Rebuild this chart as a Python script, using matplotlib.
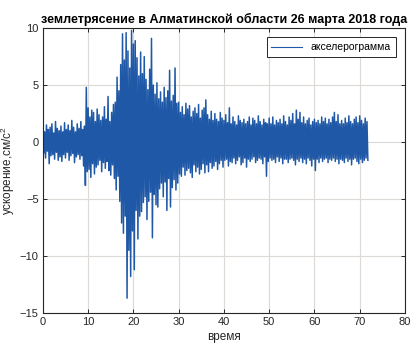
"""Accelerogram of the 26 March 2018 earthquake in Almaty region."""
import numpy as np
import matplotlib
matplotlib.use("Agg")
import matplotlib.pyplot as plt

plt.rcParams["font.family"] = ["Liberation Sans", "DejaVu Sans"]
plt.rcParams["mathtext.fontset"] = "custom"
plt.rcParams["mathtext.rm"] = "Liberation Sans"

# acceleration peaks, cm/s^2, 5 samples per second (one row = 2 s)
SAMPLE_RATE = 5.0
accel = [
    1.2, -1.0, 0.9, -1.4, 1.5, -0.8, 1.1, -1.9, 1.3, -1.2,
    1.6, -1.1, 0.8, -1.5, 1.8, -0.9, 1.2, -1.6, 1.0, -1.3,
    1.4, -1.7, 0.9, -1.1, 1.7, -1.4, 1.1, -0.9, 1.5, -1.6,
    1.0, -1.2, 1.9, -1.0, 1.3, -1.8, 0.9, -1.3, 1.6, -1.1,
    1.2, -1.5, 1.8, -1.2, 1.1, -2.1, 1.4, -3.8, 4.8, -2.6,
    3.0, -2.4, 2.2, -3.1, 2.8, -1.9, 2.6, -2.8, 1.8, -2.2,
    2.9, -2.0, 2.4, -1.6, 1.9, -2.6, 2.2, -1.8, 3.1, -2.3,
    2.0, -1.7, 4.0, -2.5, 1.8, -2.9, 2.6, -2.0, 3.3, -3.2,
    3.5, -4.2, 5.7, -3.0, 4.5, -5.2, 6.8, -7.1, 9.5, -8.0,
    7.2, -6.5, 9.6, -13.7, 8.0, -9.5, 6.5, -11.8, 9.8, -7.8,
    8.6, -11.2, 8.9, -6.0, 7.4, -8.5, 5.8, -6.5, 7.9, -6.1,
    6.0, -5.3, 7.5, -4.8, 5.5, -6.8, 4.6, -5.2, 6.4, -4.4,
    9.1, -8.4, 5.0, -4.6, 4.2, -5.5, 5.2, -5.7, 3.8, -4.1,
    4.4, -3.6, 3.5, -4.8, 4.8, -3.5, 3.9, -6.0, 4.5, -3.2,
    6.3, -5.7, 3.6, -4.0, 4.1, -3.3, 6.5, -4.2, 3.4, -3.6,
    3.5, -2.8, 2.6, -3.0, 3.1, -2.2, 2.4, -2.9, 3.4, -2.5,
    2.9, -2.3, 3.2, -2.7, 2.2, -3.1, 2.7, -2.0, 3.0, -2.6,
    2.5, -2.2, 3.3, -2.8, 2.1, -2.4, 2.8, -1.9, 3.0, -2.7,
    3.7, -2.0, 2.4, -2.6, 2.0, -1.8, 2.7, -2.3, 1.9, -2.1,
    2.5, -1.7, 2.0, -2.4, 1.8, -1.9, 2.6, -1.6, 2.1, -2.2,
    1.9, -1.6, 2.4, -1.5, 1.7, -2.1, 3.0, -1.7, 1.6, -1.8,
    2.2, -1.4, 1.8, -1.9, 1.5, -1.6, 2.3, -1.3, 1.9, -2.0,
    1.7, -1.8, 2.0, -1.4, 1.6, -2.2, 1.8, -1.5, 2.2, -1.7,
    1.5, -1.5, 2.1, -1.3, 1.9, -1.8, 1.6, -1.6, 2.3, -1.4,
    1.8, -1.5, 1.5, -1.9, 2.0, -1.3, 1.7, -3.0, 1.6, -1.7,
    2.1, -1.4, 1.6, -1.6, 2.2, -1.5, 1.5, -1.8, 1.9, -1.3,
    1.7, -1.7, 2.0, -1.4, 1.6, -1.9, 2.3, -1.5, 1.8, -1.5,
    1.5, -1.8, 2.2, -1.5, 1.9, -1.4, 2.5, -1.6, 1.6, -2.0,
    2.8, -1.5, 2.0, -1.7, 2.6, -1.4, 1.7, -1.8, 2.2, -1.5,
    1.6, -1.9, 1.9, -1.4, 2.1, -1.6, 1.5, -2.1, 1.8, -1.5,
    2.0, -2.5, 1.7, -1.5, 1.9, -1.8, 1.6, -1.4, 2.2, -1.7,
    1.8, -1.5, 2.1, -1.4, 1.6, -1.8, 2.0, -1.5, 1.7, -1.6,
    2.2, -1.4, 2.6, -1.7, 1.8, -1.5, 2.4, -1.9, 1.6, -1.5,
    1.9, -1.6, 1.6, -1.8, 2.1, -1.4, 1.7, -1.7, 2.3, -1.5,
    1.8, -2.0, 1.6, -1.5, 2.0, -1.4, 2.2, -1.7, 1.7, -1.9,
    2.3, -1.5, 1.9, -1.8, 1.6, -1.6, 2.1, -1.4, 1.8, -1.6,
]
x_ticks = [0, 10, 20, 30, 40, 50, 60, 70, 80]
y_ticks = [-15, -10, -5, 0, 5, 10]

accel = np.array(accel)
t = np.arange(len(accel)) / SAMPLE_RATE

fig = plt.figure(figsize=(4.12, 3.47), dpi=100)
ax = fig.add_axes([0.104, 0.098, 0.879, 0.821])
ax.plot(t, accel, color="#1f58a6", lw=1.1, label="акселерограмма")

ax.set_xlim(0, 80)
ax.set_ylim(-15, 10)
ax.set_xticks(x_ticks)
ax.set_yticks(y_ticks)
ax.grid(True, color="#ddd9d5", lw=0.8)
ax.set_axisbelow(True)
ax.tick_params(direction="in", top=True, right=True, length=3, width=0.7,
               labelsize=8, colors="#262626", pad=3)
for s in ax.spines.values():
    s.set_color("#262626")
    s.set_linewidth(0.8)

ax.set_title("землетрясение в Алматинской области 26 марта 2018 года",
             fontsize=9, fontweight="bold", pad=4)
ax.set_xlabel("время", fontsize=8.5, color="#262626", labelpad=3)
ax.set_ylabel("ускорение,см/с$^2$", fontsize=8.5, color="#262626", labelpad=2)

leg = ax.legend(loc="upper right", fontsize=7.5, fancybox=False, framealpha=1,
                edgecolor="#262626", handlelength=3.0, borderpad=0.45,
                borderaxespad=0.9)
leg.get_frame().set_linewidth(0.7)
for h in leg.get_lines():
    h.set_linewidth(0.8)

fig.savefig("out.png")
